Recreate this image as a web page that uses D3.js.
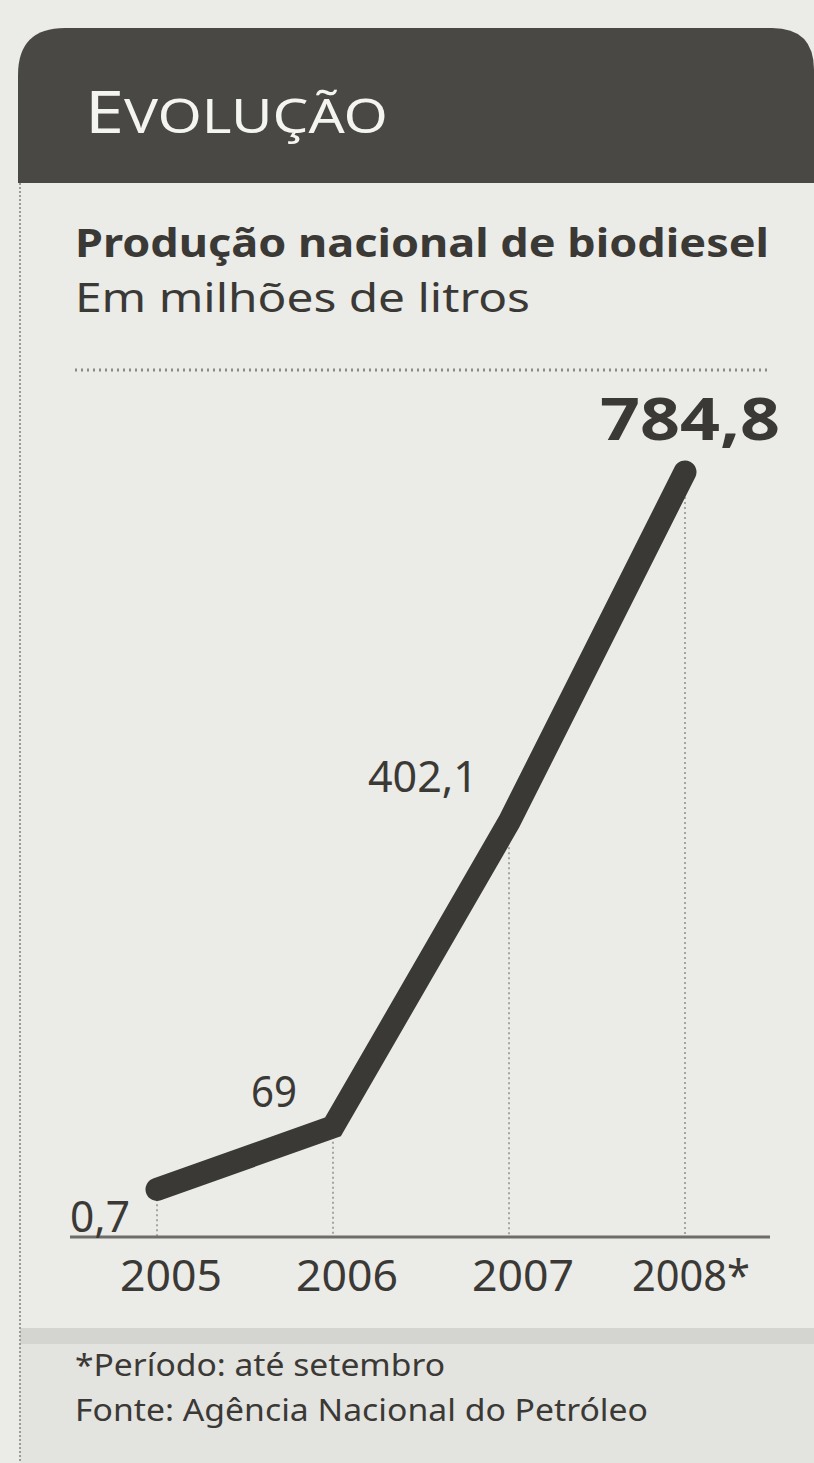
<!DOCTYPE html>
<html lang="pt">
<head>
<meta charset="UTF-8">
<title>Evolução - Produção nacional de biodiesel</title>
<style>
  html, body { margin: 0; padding: 0; background: #ebebe7; }
  svg { display: block; }
  text { font-family: "Noto Sans", "Open Sans", sans-serif; }
</style>
</head>
<body>
<svg width="814" height="1463"></svg>
<script src="https://d3js.org/d3.v7.min.js"></script>
<script>
  // dados
  const years = ["2005", "2006", "2007", "2008*"];
  const production = [0.7, 69, 402.1, 784.8];
  const valueLabels = ["0,7", "69", "402,1", "784,8"];
  const title = "Produção nacional de biodiesel";
  const subtitle = "Em milhões de litros";
  const notes = ["*Período:  até setembro", "Fonte: Agência Nacional do Petróleo"];

  const svg = d3.select("svg");
  const W = 814, H = 1463;
  const ink = "#3b3936";

  svg.append("rect").attr("width", W).attr("height", H).attr("fill", "#ebebe7");

  // faixa inferior mais escura
  svg.append("rect").attr("x", 20).attr("y", 1330).attr("width", W - 20).attr("height", H - 1330)
    .attr("fill", "#e3e3df");
  svg.append("rect").attr("x", 20).attr("y", 1328).attr("width", W - 20).attr("height", 16)
    .attr("fill", "#d4d4d0");

  // cabeçalho escuro com cantos arredondados
  svg.append("path")
    .attr("d", "M18,183 V75 Q18,28 65,28 H772 Q814,28 814,70 V183 Z")
    .attr("fill", "#4a4844");

  const head = svg.append("text").attr("x", 85).attr("y", 133).attr("fill", "#f4f4f0")
    .attr("textLength", 303).attr("lengthAdjust", "spacingAndGlyphs");
  head.append("tspan").attr("font-size", 58).text("E");
  head.append("tspan").attr("font-size", 47).text("VOLUÇÃO");

  // borda pontilhada à esquerda
  svg.append("line").attr("x1", 20).attr("x2", 20).attr("y1", 183).attr("y2", H)
    .attr("stroke", "#9a9a96").attr("stroke-width", 2).attr("stroke-dasharray", "2,2");

  svg.append("text").attr("x", 75).attr("y", 257).attr("font-size", 40).attr("font-weight", "bold")
    .attr("fill", ink).attr("textLength", 694).attr("lengthAdjust", "spacingAndGlyphs").text(title);
  svg.append("text").attr("x", 75).attr("y", 312).attr("font-size", 40)
    .attr("fill", ink).attr("textLength", 455).attr("lengthAdjust", "spacingAndGlyphs").text(subtitle);

  svg.append("line").attr("x1", 75).attr("x2", 770).attr("y1", 370).attr("y2", 370)
    .attr("stroke", "#8a8a86").attr("stroke-width", 3).attr("stroke-dasharray", "2,4");

  // escalas
  const x = d3.scalePoint().domain(years).range([157, 685]);
  const y = d3.scaleLinear().domain([0, 784.8]).range([1190, 472]);
  const baseY = 1237;

  const pts = years.map((yr, i) => ({ year: yr, value: production[i], label: valueLabels[i] }));

  // linhas de chamada pontilhadas
  svg.append("g").selectAll("line").data(pts).join("line")
    .attr("x1", d => x(d.year)).attr("x2", d => x(d.year))
    .attr("y1", d => y(d.value)).attr("y2", baseY)
    .attr("stroke", "#8e8e8a").attr("stroke-width", 1.5).attr("stroke-dasharray", "2,3");

  // eixo base
  svg.append("line").attr("x1", 70).attr("x2", 770).attr("y1", baseY).attr("y2", baseY)
    .attr("stroke", "#6e6d69").attr("stroke-width", 3);

  // linha principal
  const line = d3.line().x(d => x(d.year)).y(d => y(d.value));
  svg.append("path").datum(pts).attr("d", line)
    .attr("fill", "none").attr("stroke", ink).attr("stroke-width", 23)
    .attr("stroke-linecap", "round").attr("stroke-linejoin", "miter");

  // rótulos dos anos
  svg.append("g").selectAll("text").data(pts).join("text")
    .attr("x", (d, i) => x(d.year) + (i === 3 ? 6 : 14))
    .attr("y", 1291).attr("text-anchor", "middle").attr("font-size", 43).attr("fill", ink)
    .attr("textLength", (d, i) => i === 3 ? 118 : 102).attr("lengthAdjust", "spacingAndGlyphs")
    .text(d => d.year);

  // rótulos de valores
  const g = svg.append("g");
  pts.forEach((d, i) => {
    const px = x(d.year), py = y(d.value);
    const t = g.append("text").attr("fill", ink).text(d.label);
    if (i === 0) {
      t.attr("x", px - 27).attr("y", baseY - 5).attr("text-anchor", "end").attr("font-size", 43)
        .attr("textLength", 60).attr("lengthAdjust", "spacingAndGlyphs");
    } else if (i === 1) {
      t.attr("x", px - 59).attr("y", py - 20).attr("text-anchor", "middle").attr("font-size", 43)
        .attr("textLength", 46).attr("lengthAdjust", "spacingAndGlyphs");
    } else if (i === 2) {
      t.attr("x", px - 86).attr("y", py - 30).attr("text-anchor", "middle").attr("font-size", 43)
        .attr("textLength", 110).attr("lengthAdjust", "spacingAndGlyphs");
    } else {
      t.attr("x", px + 95).attr("y", py - 32).attr("text-anchor", "end").attr("font-size", 60)
        .attr("font-weight", "bold").attr("textLength", 180).attr("lengthAdjust", "spacingAndGlyphs");
    }
  });

  // notas
  svg.append("g").selectAll("text").data(notes).join("text")
    .attr("x", 75).attr("y", (d, i) => 1376 + i * 45).attr("font-size", 31).attr("fill", ink)
    .attr("textLength", (d, i) => i === 0 ? 370 : 573).attr("lengthAdjust", "spacingAndGlyphs")
    .text(d => d);
</script>
</body>
</html>
